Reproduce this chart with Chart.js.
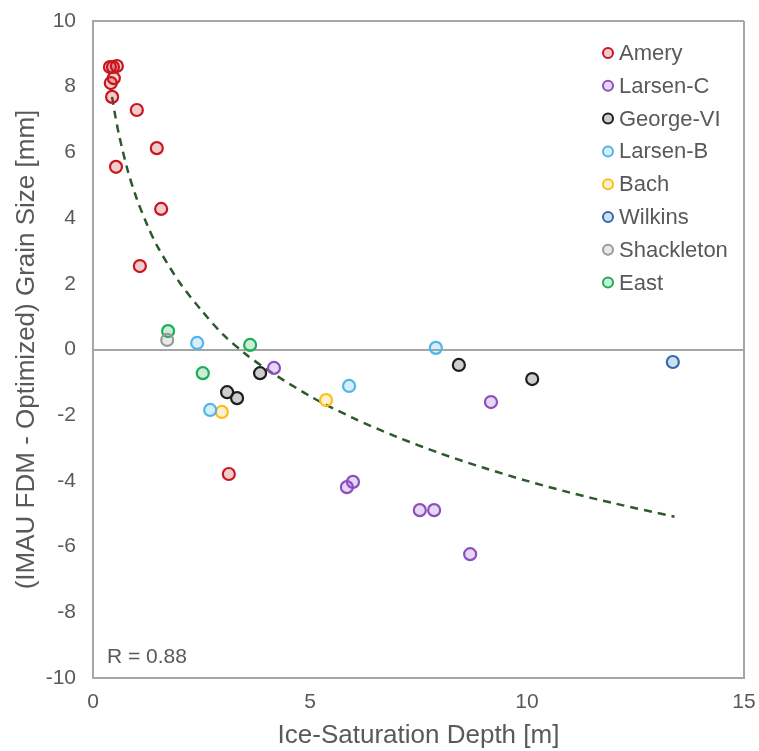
<!DOCTYPE html>
<html>
<head>
<meta charset="utf-8">
<script src="https://cdn.jsdelivr.net/npm/chart.js@4.4.1/dist/chart.umd.min.js"></script>
<style>
  html, body { margin: 0; padding: 0; background: #ffffff; }
  #wrap { width: 759px; height: 751px; }
</style>
</head>
<body>
<div id="wrap"><canvas id="graficoGranulo"></canvas></div>
<script>
// shelves and their points (ice-saturation depth [m], grain size difference [mm])
var plataformas = ['Amery', 'Larsen-C', 'George-VI', 'Larsen-B', 'Bach', 'Wilkins', 'Shackleton', 'East'];
var cores = ['#c8161e', '#8b4fc2', '#1e1e1e', '#4db6ea', '#ffbd1a', '#2f6cae', '#9a9a9a', '#1aae55'];

var ameryX = [0.39, 0.46, 0.55, 0.48, 0.41, 0.44, 1.01, 1.47, 0.53, 1.57, 1.08, 3.13];
var ameryY = [8.60, 8.60, 8.63, 8.26, 8.11, 7.69, 7.29, 6.13, 5.56, 4.28, 2.54, -3.79];

var larsenCX = [4.17, 5.85, 5.99, 7.53, 7.86, 8.69, 9.17];
var larsenCY = [-0.56, -4.19, -4.03, -4.89, -4.89, -6.23, -1.60];

var georgeX = [3.85, 3.09, 3.32, 8.43, 10.12];
var georgeY = [-0.72, -1.30, -1.48, -0.47, -0.90];

var larsenBX = [2.40, 2.70, 5.90, 7.90];
var larsenBY = [0.20, -1.84, -1.11, 0.05];

var bachX = [2.97, 5.37];
var bachY = [-1.90, -1.54];

var wilkinsX = [13.36];
var wilkinsY = [-0.38];

var shackletonX = [1.71];
var shackletonY = [0.29];

var eastX = [1.73, 3.62, 2.53];
var eastY = [0.56, 0.14, -0.72];

// dashed trend curve
var tendenciaX = [0.44, 0.5, 0.6, 0.8, 1.0, 1.25, 1.5, 2, 2.5, 3, 3.5, 4, 5, 6, 7, 8, 9, 10, 11, 12, 13.4];
var tendenciaY = [7.69, 7.21, 6.53, 5.45, 4.62, 3.79, 3.10, 2.03, 1.19, 0.45, -0.12, -0.60, -1.42, -2.09, -2.66, -3.16, -3.60, -4.00, -4.36, -4.68, -5.09];

var ticksX = [0, 5, 10, 15];
var ticksY = [-10, -8, -6, -4, -2, 0, 2, 4, 6, 8, 10];
var textoR = 'R = 0.88';

function pares(xs, ys) {
    var arr = [];
    for (var i = 0; i < xs.length; i++) arr.push({ x: xs[i], y: ys[i] });
    return arr;
}

function transparente(hex, a) {
    var r = parseInt(hex.substr(1, 2), 16), g = parseInt(hex.substr(3, 2), 16), b = parseInt(hex.substr(5, 2), 16);
    return 'rgba(' + r + ',' + g + ',' + b + ',' + a + ')';
}

var series = [[ameryX, ameryY], [larsenCX, larsenCY], [georgeX, georgeY], [larsenBX, larsenBY],
              [bachX, bachY], [wilkinsX, wilkinsY], [shackletonX, shackletonY], [eastX, eastY]];

var datasets = [];
for (var i = 0; i < plataformas.length; i++) {
    datasets.push({
        label: plataformas[i],
        data: pares(series[i][0], series[i][1]),
        borderColor: cores[i],
        backgroundColor: transparente(cores[i], 0.22),
        borderWidth: 2.2,
        pointRadius: 6,
        pointHoverRadius: 6,
        order: 0
    });
}
datasets.push({
    label: 'trend',
    type: 'line',
    data: pares(tendenciaX, tendenciaY),
    borderColor: '#2c5a2c',
    borderWidth: 2.5,
    borderDash: [8, 6],
    pointRadius: 0,
    fill: false,
    tension: 0.3,
    order: 1
});

var corTexto = '#595959';
var corEixo = '#a6a6a6';
var fonte = 'Liberation Sans, Arial, sans-serif';

// legend drawn inside the plot, top right
var legendaInterna = {
    id: 'legendaInterna',
    afterDraw: function(chart) {
        var ctx = chart.ctx;
        ctx.save();
        ctx.font = '22px ' + fonte;
        ctx.textBaseline = 'middle';
        ctx.textAlign = 'left';
        for (var i = 0; i < plataformas.length; i++) {
            var y = 53 + i * 32.8;
            ctx.beginPath();
            ctx.arc(608, y, 5, 0, Math.PI * 2);
            ctx.fillStyle = transparente(cores[i], 0.22);
            ctx.fill();
            ctx.lineWidth = 2;
            ctx.strokeStyle = cores[i];
            ctx.stroke();
            ctx.fillStyle = corTexto;
            ctx.fillText(plataformas[i], 619, y + 1);
        }
        ctx.font = '21px ' + fonte;
        ctx.fillText(textoR, 107, 657);
        ctx.restore();
    }
};

var ctx = document.getElementById('graficoGranulo');
var grafico = new Chart(ctx, {
    type: 'scatter',
    data: { datasets: datasets },
    options: {
        responsive: true,
        maintainAspectRatio: false,
        animation: false,
        layout: { padding: { top: 21, right: 15, left: 0, bottom: 0 } },
        plugins: {
            legend: { display: false },
            tooltip: { enabled: false }
        },
        scales: {
            x: {
                type: 'linear',
                min: 0,
                max: 15,
                afterFit: function(s) { s.height = 73; s.paddingLeft = 0; s.paddingRight = 0; },
                afterBuildTicks: function(s) { s.ticks = ticksX.map(function(v) { return { value: v }; }); },
                border: { display: true, color: corEixo, width: 2 },
                grid: {
                    drawTicks: false,
                    lineWidth: 2,
                    color: function(c) { return c.tick && c.tick.value === 15 ? corEixo : 'rgba(0,0,0,0)'; }
                },
                ticks: { color: corTexto, font: { size: 21, family: fonte }, padding: 12 },
                title: {
                    display: true,
                    text: 'Ice-Saturation Depth [m]',
                    color: corTexto,
                    font: { size: 26, family: fonte },
                    padding: { top: 0, bottom: 0 }
                }
            },
            y: {
                type: 'linear',
                min: -10,
                max: 10,
                afterFit: function(s) { s.width = 93; s.paddingTop = 0; s.paddingBottom = 0; },
                afterBuildTicks: function(s) { s.ticks = ticksY.map(function(v) { return { value: v }; }); },
                border: { display: true, color: corEixo, width: 2 },
                grid: {
                    drawTicks: false,
                    lineWidth: 2,
                    color: function(c) {
                        var v = c.tick ? c.tick.value : null;
                        return (v === 0 || v === 10) ? corEixo : 'rgba(0,0,0,0)';
                    }
                },
                ticks: { color: corTexto, font: { size: 21, family: fonte }, padding: 17 },
                title: {
                    display: true,
                    text: '(IMAU FDM - Optimized) Grain Size [mm]',
                    color: corTexto,
                    font: { size: 26, family: fonte },
                    padding: { top: 11, bottom: 0 }
                }
            }
        }
    },
    plugins: [legendaInterna]
});
</script>
</body>
</html>
